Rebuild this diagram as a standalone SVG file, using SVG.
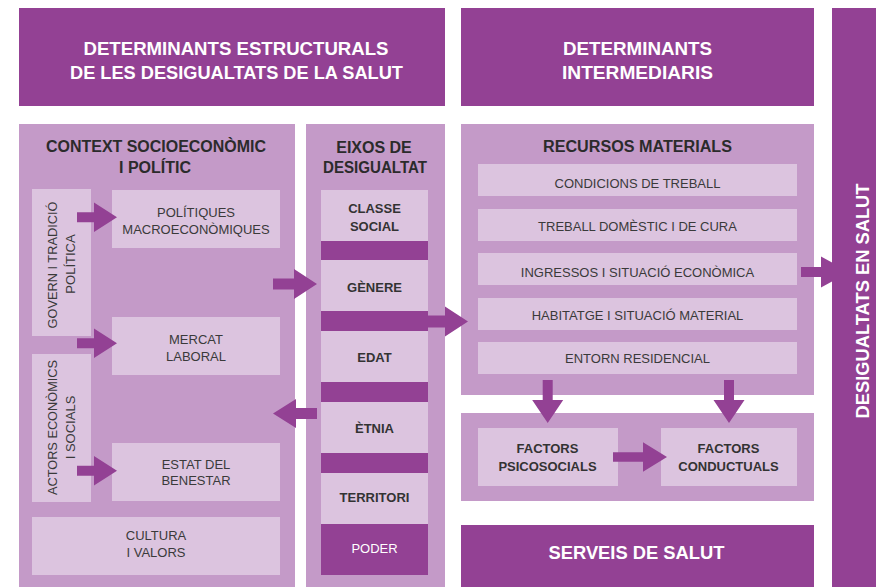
<svg xmlns="http://www.w3.org/2000/svg" width="876" height="587" viewBox="0 0 876 587">
<style>
.dk{fill:#934194}
.md{fill:#C49AC8}
.lt{fill:#DCC4DF}
.ar{fill:#934194}
text{font-family:"Liberation Sans",Arial,sans-serif;text-anchor:middle}
.hd{font-weight:bold;font-size:19px;fill:#ffffff}
.tt{font-weight:bold;font-size:16px;fill:#2b2b2b}
.tx{font-size:13px;fill:#3a3a3a}
.tb{font-size:13px;font-weight:bold;fill:#333333}
</style>
<rect width="876" height="587" fill="#ffffff"/>

<g id="header-estructurals">
<rect class="dk" x="19" y="8" width="426" height="98"/>
<text class="hd" x="236" y="55" textLength="305" lengthAdjust="spacingAndGlyphs">DETERMINANTS ESTRUCTURALS</text>
<text class="hd" x="236.5" y="79" textLength="333" lengthAdjust="spacingAndGlyphs">DE LES DESIGUALTATS DE LA SALUT</text>
</g>
<g id="header-intermediaris">
<rect class="dk" x="461" y="8" width="353" height="98"/>
<text class="hd" x="637.5" y="55" textLength="149" lengthAdjust="spacingAndGlyphs">DETERMINANTS</text>
<text class="hd" x="637.5" y="79" textLength="151" lengthAdjust="spacingAndGlyphs">INTERMEDIARIS</text>
</g>

<g id="context">
<rect class="md" x="19" y="124" width="276" height="463"/>
<text class="tt" x="156" y="152" textLength="220" lengthAdjust="spacingAndGlyphs">CONTEXT SOCIOECONÒMIC</text>
<text class="tt" x="155" y="173">I POLÍTIC</text>
</g>
<g id="govern">
<rect class="lt" x="32" y="189" width="59" height="147"/>
<text class="tx" transform="translate(57,265) rotate(-90)" textLength="127" lengthAdjust="spacingAndGlyphs">GOVERN I TRADICIÓ</text>
<text class="tx" transform="translate(75,264) rotate(-90)">POLÍTICA</text>
</g>
<g id="politiques">
<rect class="lt" x="112" y="190" width="168" height="58"/>
<text class="tx" x="196" y="217">POLÍTIQUES</text>
<text class="tx" x="196" y="233.5">MACROECONÒMIQUES</text>
</g>
<g id="mercat">
<rect class="lt" x="112" y="317" width="168" height="58"/>
<text class="tx" x="196" y="344">MERCAT</text>
<text class="tx" x="196" y="360.5">LABORAL</text>
</g>
<g id="actors">
<rect class="lt" x="32" y="354" width="59" height="148"/>
<text class="tx" transform="translate(57,427.5) rotate(-90)" textLength="135" lengthAdjust="spacingAndGlyphs">ACTORS ECONÒMICS</text>
<text class="tx" transform="translate(75,427.5) rotate(-90)">I SOCIALS</text>
</g>
<g id="estat">
<rect class="lt" x="112" y="443" width="168" height="58"/>
<text class="tx" x="196" y="468.5">ESTAT DEL</text>
<text class="tx" x="196" y="485">BENESTAR</text>
</g>
<g id="cultura">
<rect class="lt" x="32" y="517" width="248" height="58"/>
<text class="tx" x="156" y="540">CULTURA</text>
<text class="tx" x="156" y="557">I VALORS</text>
</g>

<g id="eixos">
<rect class="md" x="306" y="124" width="139" height="463"/>
<text class="tt" x="374" y="153">EIXOS DE</text>
<text class="tt" x="375" y="173.3" textLength="104" lengthAdjust="spacingAndGlyphs">DESIGUALTAT</text>
<rect class="dk" x="321" y="190" width="107" height="385"/>
</g>
<g id="classe">
<rect class="lt" x="321" y="190" width="107" height="51"/>
<text class="tb" x="374.5" y="213">CLASSE</text>
<text class="tb" x="374.5" y="230.5">SOCIAL</text>
</g>
<g id="genere">
<rect class="lt" x="321" y="260" width="107" height="51"/>
<text class="tb" x="374.5" y="292">GÈNERE</text>
</g>
<g id="edat">
<rect class="lt" x="321" y="331" width="107" height="51"/>
<text class="tb" x="374.5" y="361.5">EDAT</text>
</g>
<g id="etnia">
<rect class="lt" x="321" y="402" width="107" height="51"/>
<text class="tb" x="374.5" y="433">ÈTNIA</text>
</g>
<g id="territori">
<rect class="lt" x="321" y="473" width="107" height="51"/>
<text class="tb" x="374.5" y="502">TERRITORI</text>
</g>
<g id="poder">
<text class="tb" x="374.5" y="553" style="fill:#ffffff;font-weight:normal">PODER</text>
</g>

<g id="recursos">
<rect class="md" x="461" y="124" width="353" height="271"/>
<text class="tt" x="637.5" y="152.3" textLength="189" lengthAdjust="spacingAndGlyphs">RECURSOS MATERIALS</text>
</g>
<g id="condicions">
<rect class="lt" x="478" y="164" width="319" height="32"/>
<text class="tx" x="637.5" y="188.3">CONDICIONS DE TREBALL</text>
</g>
<g id="treball">
<rect class="lt" x="478" y="209" width="319" height="32"/>
<text class="tx" x="637.5" y="231">TREBALL DOMÈSTIC I DE CURA</text>
</g>
<g id="ingressos">
<rect class="lt" x="478" y="253" width="319" height="32"/>
<text class="tx" x="637.5" y="276.7">INGRESSOS I SITUACIÓ ECONÒMICA</text>
</g>
<g id="habitatge">
<rect class="lt" x="478" y="298" width="319" height="32"/>
<text class="tx" x="637.5" y="320">HABITATGE I SITUACIÓ MATERIAL</text>
</g>
<g id="entorn">
<rect class="lt" x="478" y="342" width="319" height="32"/>
<text class="tx" x="637.5" y="363.3">ENTORN RESIDENCIAL</text>
</g>

<g id="factors">
<rect class="md" x="461" y="413" width="353" height="88"/>
</g>
<g id="psicosocials">
<rect class="lt" x="478" y="428" width="140" height="58"/>
<text class="tb" x="547.5" y="453.3">FACTORS</text>
<text class="tb" x="547.5" y="470.7">PSICOSOCIALS</text>
</g>
<g id="conductuals">
<rect class="lt" x="661" y="428" width="136" height="58"/>
<text class="tb" x="728.5" y="453.3">FACTORS</text>
<text class="tb" x="728.5" y="470.7">CONDUCTUALS</text>
</g>

<g id="serveis">
<rect class="dk" x="461" y="525" width="353" height="62"/>
<text class="hd" x="636.5" y="559.3" textLength="176" lengthAdjust="spacingAndGlyphs">SERVEIS DE SALUT</text>
</g>

<g id="desigualtats">
<rect class="dk" x="832" y="8" width="44" height="579"/>
<text class="hd" transform="translate(869,301) rotate(-90)" textLength="235" lengthAdjust="spacingAndGlyphs">DESIGUALTATS EN SALUT</text>
</g>

<g id="connectors">
<polygon class="ar" points="77,212.3 94,212.3 94,202.5 117,217.3 94,232.1 94,222.3 77,222.3"/>
<polygon class="ar" points="77,338.3 94,338.3 94,328.5 117,343.3 94,358.1 94,348.3 77,348.3"/>
<polygon class="ar" points="77,465.8 94,465.8 94,456 117,470.8 94,485.6 94,475.8 77,475.8"/>
<polygon class="ar" points="273,278.5 294,278.5 294,269 317,284 294,299 294,289.5 273,289.5"/>
<polygon class="ar" points="317,408 296,408 296,399 273,413.5 296,428 296,419 317,419"/>
<polygon class="ar" points="428,315.5 445,315.5 445,306.5 468,321.5 445,336.5 445,327.5 428,327.5"/>
<polygon class="ar" points="801,267 821,267 821,256.5 832,262.4 832,281.6 821,287.5 821,277 801,277"/>
<polygon class="ar" points="542.7,380 552.7,380 552.7,400 563.2,400 547.7,423 532.2,400 542.7,400"/>
<polygon class="ar" points="724,380 734,380 734,400 744.5,400 729,423 713.5,400 724,400"/>
<polygon class="ar" points="613,452.3 643,452.3 643,442.3 667,457 643,471.7 643,461.7 613,461.7"/>
</g>
</svg>
